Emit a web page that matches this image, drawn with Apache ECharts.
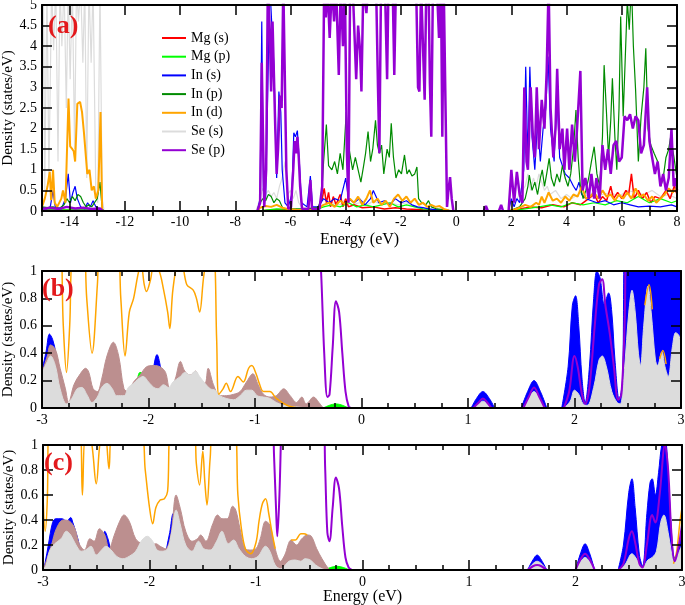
<!DOCTYPE html>
<html><head><meta charset="utf-8">
<script src="https://cdn.jsdelivr.net/npm/echarts@6/dist/echarts.min.js"></script>
<style>html,body{margin:0;padding:0;background:#fff}#c{width:685px;height:605px}</style>
</head><body><div id="c"></div>
<script>
// ---------- tick values ----------
const xTicksA_major = [-14,-12,-10,-8,-6,-4,-2,0,2,4,6,8];
const xTicksA_minor = [-15,-13,-11,-9,-7,-5,-3,-1,1,3,5,7];
const legendNames = ['Mg (s)','Mg (p)','In (s)','In (p)','In (d)','Se (s)','Se (p)'];
const B = null; // break in a curve

// ---------- panel (a) ----------
const seS_a = [[-15,0.7],[-14.95,5.5],[-14.9,0.5],[-14.82,5.5],[-14.75,0.8],[-14.65,5.5],[-14.58,3.9],[-14.5,5.5],[-14.42,1.2],[-14.35,5.5],[-14.28,4.0],[-14.2,5.5],[-14.12,2.5],[-14.05,5.5],[-13.98,3.2],[-13.9,5.5],[-13.82,1.5],[-13.75,5.5],[-13.68,4.6],[-13.6,5.5],[-13.52,3.6],[-13.45,5.5],[-13.38,0.8],[-13.3,5.5],[-13.22,3.6],[-13.15,5.5],[-13.05,0.4],[-12.98,0.2],[-12.9,5.5],[-12.82,0.3],[-12.75,0],B,
[-7.25,0],[-7.1,0.3],[-7.0,0.55],[-6.9,0.4],[-6.8,0.5],[-6.7,0.35],[-6.6,0.45],[-6.5,0.3],[-6.4,0.6],[-6.3,0.8],[-6.2,1.2],[-6.1,0.4],[-6.0,0.5],[-5.9,0.3],[-5.8,0.5],[-5.7,0.2],[-5.6,0.1],[-5.3,0.05],[-5.0,0.1],[-4.8,0.15],[-4.5,0.2],[-4.2,0.15],[-4.0,0.3],[-3.8,0.15],[-3.5,0.2],[-3.2,0.15],[-3.0,0.25],[-2.7,0.15],[-2.4,0.2],[-2.1,0.15],[-1.8,0.2],[-1.5,0.1],[-1.2,0.05],[-0.8,0.03],[-0.3,0.02],[-0.2,0],B,
[1.9,0],[2.1,0.2],[2.3,0.4],[2.5,0.6],[2.6,0.9],[2.7,0.5],[2.8,0.8],[2.9,0.6],[3.0,0.9],[3.1,0.7],[3.2,0.5],[3.3,0.6],[3.4,0.4],[3.6,0.5],[3.8,0.3],[4.0,0.4],[4.2,0.3],[4.5,0.45],[4.8,0.35],[5.0,0.5],[5.3,0.4],[5.6,0.45],[5.9,0.35],[6.2,0.5],[6.5,0.45],[6.8,0.4],[7.1,0.5],[7.4,0.35],[7.7,0.4],[8,0.3]];

const mgS_a = [[-15,0.02],[-12.8,0.02],[-12.75,0],B,[-7.2,0],[-6.5,0.03],[-5.5,0.02],[-5.0,0.05],[-4.85,0.3],[-4.78,0.55],[-4.7,0.2],[-4.62,0.45],[-4.55,0.1],[-4.45,0.35],[-4.35,0.15],[-4.2,0.4],[-4.1,0.1],[-4.0,0.3],[-3.9,0.1],[-3.7,0.15],[-3.4,0.08],[-3.0,0.1],[-2.6,0.05],[-2.2,0.08],[-1.8,0.05],[-1.2,0.03],[-0.5,0.02],[-0.2,0],B,
[1.9,0],[2.3,0.05],[2.7,0.1],[3.1,0.08],[3.5,0.15],[3.9,0.1],[4.2,0.2],[4.5,0.15],[4.8,0.3],[5.0,0.4],[5.15,0.2],[5.3,0.35],[5.45,0.25],[5.6,0.6],[5.7,0.3],[5.85,0.45],[6.0,0.3],[6.15,0.5],[6.25,0.4],[6.35,0.9],[6.45,0.3],[6.6,0.5],[6.75,0.3],[6.9,0.45],[7.05,0.2],[7.2,0.35],[7.4,0.3],[7.6,0.5],[7.75,0.3],[7.9,0.6],[8,0.4]];

const mgP_a = [[-15,0.03],[-12.8,0.03],[-12.75,0],B,[-7.2,0],[-6.5,0.05],[-5.5,0.03],[-5.0,0.05],[-4.8,0.1],[-4.5,0.15],[-4.2,0.1],[-3.9,0.2],[-3.6,0.1],[-3.3,0.15],[-3.0,0.1],[-2.7,0.15],[-2.4,0.2],[-2.1,0.1],[-1.8,0.15],[-1.5,0.1],[-1.2,0.05],[-0.6,0.02],[-0.2,0],B,
[1.9,0],[2.5,0.05],[3.0,0.1],[3.4,0.15],[3.8,0.1],[4.2,0.2],[4.6,0.15],[5.0,0.2],[5.4,0.15],[5.8,0.25],[6.2,0.2],[6.6,0.35],[7.0,0.2],[7.4,0.3],[7.8,0.2],[8,0.25]];

const inS_a = [[-15,0.1],[-14.85,0.05],[-14.7,0.1],[-14.6,0.5],[-14.52,0.1],[-14.3,0.05],[-14.15,0.3],[-14.05,0.9],[-13.97,0.2],[-13.88,0.45],[-13.8,0.6],[-13.72,0.3],[-13.6,0.1],[-13.45,0.05],[-13.35,0.2],[-13.25,0.1],[-13.15,0.25],[-13.05,0.1],[-12.9,0.05],[-12.8,0],B,
[-7.2,0],[-7.1,0.3],[-7.04,4.6],[-6.98,0.5],[-6.9,0.3],[-6.82,3.0],[-6.75,5.5],[-6.68,5.5],[-6.6,3.5],[-6.5,0.8],[-6.42,2.9],[-6.35,2.4],[-6.3,1.0],[-6.2,0.2],[-6.08,0.1],[-5.95,0.4],[-5.88,1.9],[-5.82,1.8],[-5.75,1.95],[-5.68,1.2],[-5.6,0.2],[-5.4,0.1],[-5.28,0.85],[-5.2,0.1],[-5.0,0.1],[-4.8,0.3],[-4.6,0.2],[-4.4,0.3],[-4.2,0.25],[-4.0,0.8],[-3.9,0.3],[-3.7,0.2],[-3.5,0.3],[-3.3,0.15],[-3.1,0.3],[-3.0,0.5],[-2.8,0.2],[-2.6,0.25],[-2.4,0.15],[-2.2,0.3],[-2.0,0.2],[-1.8,0.25],[-1.6,0.15],[-1.4,0.1],[-1.2,0.08],[-1.0,0.05],[-0.6,0.02],[-0.3,0.02],[-0.2,0],B,
[1.9,0],[2.0,0.3],[2.1,0.1],[2.2,0.3],[2.3,0.2],[2.45,1.0],[2.52,3.5],[2.6,1.2],[2.67,3.5],[2.75,1.8],[2.85,1.0],[2.95,2.2],[3.05,1.2],[3.15,2.0],[3.25,2.5],[3.33,3.75],[3.42,2.0],[3.55,1.2],[3.65,2.9],[3.75,1.3],[3.85,1.1],[3.95,0.9],[4.1,0.8],[4.25,0.6],[4.35,0.5],[4.45,0.7],[4.55,0.4],[4.7,0.3],[4.9,0.25],[5.1,0.2],[5.4,0.25],[5.7,0.15],[6.0,0.2],[6.3,0.15],[6.6,0.1],[7.0,0.12],[7.4,0.1],[7.8,0.15],[8,0.1]];

const inP_a = [[-15,0.1],[-14.8,0.08],[-14.6,0.1],[-14.4,0.05],[-14.2,0.15],[-14.1,0.3],[-14.0,0.2],[-13.9,0.35],[-13.8,0.25],[-13.7,0.4],[-13.6,0.35],[-13.5,0.2],[-13.4,0.1],[-13.3,0.15],[-13.2,0.1],[-13.1,0.2],[-13.0,0.3],[-12.9,0.7],[-12.82,0.05],[-12.78,0],B,
[-7.2,0],[-7.1,0.2],[-7.0,0.3],[-6.9,0.25],[-6.8,0.4],[-6.7,0.35],[-6.6,0.2],[-6.5,0.3],[-6.4,0.25],[-6.3,0.1],[-6.2,0.05],[-6.0,0.05],[-5.5,0.05],[-5.0,0.08],[-4.88,0.3],[-4.8,1.2],[-4.7,2.1],[-4.62,1.1],[-4.5,1.0],[-4.4,1.2],[-4.3,0.9],[-4.2,1.4],[-4.1,1.0],[-3.98,2.4],[-3.92,1.7],[-3.85,1.4],[-3.75,1.0],[-3.65,1.3],[-3.55,1.0],[-3.45,0.7],[-3.35,1.1],[-3.28,1.4],[-3.19,1.93],[-3.1,1.2],[-3.02,1.5],[-2.92,2.2],[-2.85,1.6],[-2.78,1.4],[-2.7,1.6],[-2.62,0.9],[-2.5,1.5],[-2.42,1.3],[-2.35,2.13],[-2.27,1.3],[-2.18,0.8],[-2.08,1.0],[-1.98,0.9],[-1.87,1.36],[-1.78,0.9],[-1.7,1.0],[-1.6,0.85],[-1.5,0.9],[-1.42,1.07],[-1.36,0.3],[-1.25,0.2],[-1.1,0.15],[-1.0,0.25],[-0.9,0.1],[-0.7,0.05],[-0.4,0.03],[-0.2,0],B,
[1.9,0],[2.1,0.05],[2.3,0.1],[2.5,0.3],[2.6,0.6],[2.65,0.87],[2.75,0.5],[2.85,0.7],[2.95,0.4],[3.05,0.8],[3.12,1.0],[3.2,0.6],[3.28,0.9],[3.37,1.28],[3.45,0.8],[3.55,0.6],[3.65,0.9],[3.75,0.7],[3.85,1.1],[3.95,0.8],[4.05,0.6],[4.15,0.9],[4.25,1.5],[4.34,2.45],[4.42,1.3],[4.5,0.6],[4.6,0.3],[4.7,0.5],[4.8,0.8],[4.9,1.2],[5.0,1.56],[5.1,0.9],[5.2,0.6],[5.3,1.8],[5.36,3.54],[5.45,2.33],[5.52,1.3],[5.6,2.2],[5.66,3.22],[5.75,1.8],[5.82,1.0],[5.9,2.5],[5.96,4.72],[6.05,2.3],[6.12,3.6],[6.2,5.1],[6.27,4.4],[6.35,5.5],[6.42,4.0],[6.5,2.94],[6.6,1.2],[6.7,2.3],[6.8,3.0],[6.87,3.95],[6.95,2.0],[7.05,1.6],[7.17,1.4],[7.3,1.2],[7.41,0.6],[7.5,0.8],[7.6,1.3],[7.7,1.5],[7.77,1.8],[7.89,1.3],[8,0.8]];

const inD_a = [[-15,0.1],[-14.9,0.3],[-14.8,0.6],[-14.72,0.95],[-14.67,0.26],[-14.6,1.0],[-14.54,0.2],[-14.45,0.1],[-14.3,0.3],[-14.24,0.5],[-14.15,0.2],[-14.04,2.73],[-13.98,1.57],[-13.9,1.5],[-13.85,1.45],[-13.8,1.2],[-13.72,2.6],[-13.62,2.65],[-13.55,2.4],[-13.48,1.9],[-13.36,0.9],[-13.28,1.0],[-13.2,0.5],[-13.12,0.6],[-13.05,0.3],[-12.96,0.5],[-12.88,2.4],[-12.82,0],B,
[-7.2,0],[-7.1,0.08],[-6.9,0.12],[-6.7,0.1],[-6.5,0.15],[-6.3,0.08],[-6.1,0.05],[-5.8,0.03],[-5.3,0.02],[-5.0,0.05],[-4.8,0.15],[-4.6,0.2],[-4.4,0.1],[-4.2,0.25],[-4.0,0.15],[-3.85,0.3],[-3.7,0.2],[-3.55,0.35],[-3.4,0.15],[-3.25,0.3],[-3.12,0.5],[-3.0,0.2],[-2.85,0.3],[-2.7,0.15],[-2.55,0.25],[-2.4,0.1],[-2.25,0.3],[-2.1,0.4],[-1.95,0.25],[-1.8,0.35],[-1.65,0.2],[-1.5,0.3],[-1.35,0.15],[-1.2,0.2],[-1.05,0.1],[-0.9,0.15],[-0.75,0.1],[-0.6,0.12],[-0.45,0.05],[-0.3,0.02],[-0.2,0],B,
[1.9,0],[2.1,0.03],[2.3,0.08],[2.5,0.15],[2.7,0.1],[2.9,0.2],[3.0,0.15],[3.1,0.35],[3.2,0.2],[3.35,0.45],[3.5,0.25],[3.65,0.3],[3.8,0.2],[3.95,0.35],[4.1,0.25],[4.25,0.4],[4.4,0.35],[4.55,0.6],[4.7,0.3],[4.85,0.35],[5.0,0.45],[5.15,0.3],[5.3,0.5],[5.45,0.35],[5.6,0.4],[5.75,0.25],[5.9,0.4],[6.05,0.3],[6.2,0.45],[6.35,0.3],[6.5,0.55],[6.65,0.35],[6.8,0.4],[6.95,0.25],[7.1,0.35],[7.25,0.2],[7.4,0.3],[7.55,0.4],[7.7,0.55],[7.85,0.45],[8,0.6]];

const seP_a = [[-15,0.05],[-14.7,0.08],[-14.4,0.05],[-14.1,0.1],[-13.8,0.06],[-13.5,0.08],[-13.2,0.05],[-12.9,0.06],[-12.8,0],B,
[-7.2,0],[-7.1,0.2],[-7.04,3.6],[-7.0,2.0],[-6.95,0.1],[-6.88,1.0],[-6.82,5.5],[-6.75,4.4],[-6.7,2.9],[-6.65,4.6],[-6.6,3.3],[-6.55,2.0],[-6.5,0.9],[-6.45,1.5],[-6.38,2.8],[-6.32,2.5],[-6.26,5.5],[-6.2,5.5],[-6.15,1.0],[-6.08,0.05],[-5.98,0.1],[-5.9,1.0],[-5.85,1.7],[-5.8,1.4],[-5.75,1.8],[-5.7,1.3],[-5.65,0.6],[-5.58,0.05],[-5.35,0.05],[-5.28,0.75],[-5.22,0.05],[-4.95,0.05],[-4.85,0.6],[-4.78,5.5],[-4.72,4.7],[-4.66,5.5],[-4.58,4.2],[-4.5,5.5],[-4.42,4.6],[-4.35,5.5],[-4.25,3.3],[-4.18,5.5],[-4.1,4.0],[-4.03,5.5],[-3.96,1.5],[-3.9,0.2],[-3.84,5.5],[-3.75,5.5],[-3.62,3.2],[-3.55,4.5],[-3.48,3.9],[-3.43,2.9],[-3.36,5.5],[-3.25,4.8],[-3.18,5.5],[-2.9,5.5],[-2.83,3.0],[-2.78,1.4],[-2.72,5.5],[-2.58,5.5],[-2.5,3.2],[-2.45,5.5],[-2.3,5.5],[-2.24,3.3],[-2.18,5.5],[-1.45,5.5],[-1.38,3.0],[-1.33,2.9],[-1.27,5.5],[-1.2,5.5],[-1.14,2.7],[-1.08,5.5],[-1.0,5.5],[-0.95,3.1],[-0.9,1.8],[-0.84,5.5],[-0.7,5.5],[-0.62,4.2],[-0.55,5.5],[-0.5,1.8],[-0.45,5.5],[-0.38,5.5],[-0.33,0.1],[-0.28,0.5],[-0.22,0.82],[-0.16,0.3],[-0.1,0],B,
[1.0,0],[1.08,0.12],[1.15,0],B,[1.55,0],[1.63,0.15],[1.7,0],B,
[1.9,0],[2.0,1.0],[2.1,0.2],[2.2,0.95],[2.3,0.4],[2.4,0.2],[2.47,3.0],[2.55,1.2],[2.6,1.0],[2.7,3.0],[2.78,1.8],[2.85,1.3],[2.92,3.0],[3.0,1.5],[3.1,2.7],[3.2,2.0],[3.28,3.4],[3.35,5.5],[3.42,2.5],[3.52,1.3],[3.6,2.0],[3.66,3.45],[3.75,1.5],[3.85,2.0],[3.92,1.0],[4.02,2.0],[4.1,1.0],[4.2,2.1],[4.3,1.2],[4.38,2.0],[4.5,3.4],[4.58,0.5],[4.68,0.8],[4.8,0.3],[4.9,0.9],[5.0,0.3],[5.08,0.8],[5.2,0.3],[5.3,1.6],[5.4,1.0],[5.5,1.5],[5.6,0.9],[5.7,1.6],[5.8,1.7],[5.9,1.2],[6.0,1.3],[6.1,2.3],[6.2,2.2],[6.3,2.35],[6.4,2.0],[6.5,2.3],[6.6,2.2],[6.7,1.4],[6.8,1.6],[6.92,3.0],[7.0,1.7],[7.1,1.3],[7.2,0.9],[7.3,1.2],[7.4,0.6],[7.5,0.9],[7.6,0.5],[7.7,0.8],[7.8,2.0],[7.88,0.6],[7.95,0.8],[8,0.5]];

// ---------- panel (b) ----------
const blue_b = [[-3,0.27],[-2.96,0.42],[-2.93,0.54],[-2.9,0.5],[-2.87,0.4],[-2.84,0.22],[-2.81,0.05],[-2.79,0],B,[-1.97,0.05],[-1.95,0.3],[-1.92,0.39],[-1.89,0.31],[-1.86,0.15],[-1.85,0],B,[1.03,0],[1.08,0.07],[1.14,0.12],[1.2,0.07],[1.25,0],B,[1.5,0],[1.56,0.12],[1.62,0.2],[1.68,0.12],[1.74,0],B,
[1.88,0],[1.94,0.3],[1.98,0.75],[2.01,0.82],[2.04,0.6],[2.07,0.22],[2.1,0.04],[2.14,0.3],[2.18,0.8],[2.21,1.0],[2.24,0.95],[2.28,0.76],[2.32,0.84],[2.35,0.7],[2.38,0.35],[2.42,0.06],[2.45,0.2],[2.48,1.2],[3,1.2]];
const green_b = [[-2.12,0],[-2.1,0.22],[-2.08,0.26],[-2.05,0.25],[-2.03,0.2],[-2.02,0],B,[-0.36,0],[-0.3,0.02],[-0.24,0.03],[-0.18,0.02],[-0.12,0]];
const brown_b = [[-3,0.26],[-2.95,0.38],[-2.92,0.46],[-2.875,0.43],[-2.83,0.29],[-2.78,0.14],[-2.75,0.04],[-2.7,0.17],[-2.64,0.25],[-2.59,0.29],[-2.56,0.26],[-2.52,0.14],[-2.48,0.12],[-2.44,0.21],[-2.39,0.38],[-2.33,0.48],[-2.28,0.38],[-2.23,0.14],[-2.19,0.12],[-2.14,0.19],[-2.08,0.24],[-2.02,0.30],[-1.95,0.31],[-1.89,0.30],[-1.84,0.26],[-1.8,0.14],[-1.75,0.21],[-1.70,0.34],[-1.66,0.27],[-1.61,0.24],[-1.56,0.27],[-1.52,0.20],[-1.47,0.18],[-1.44,0.29],[-1.39,0.17],[-1.33,0.09],[-1.27,0.09],[-1.2,0.10],[-1.14,0.12],[-1.08,0.19],[-1.02,0.25],[-0.97,0.17],[-0.92,0.10],[-0.86,0.08],[-0.8,0.09],[-0.73,0.14],[-0.67,0.09],[-0.61,0.04],[-0.56,0.08],[-0.52,0.03],[-0.45,0.08],[-0.4,0.04],[-0.36,0]];
const grey_b = [[-3,0.26],[-2.95,0.34],[-2.92,0.38],[-2.875,0.31],[-2.83,0.14],[-2.77,0.03],[-2.72,0.07],[-2.67,0.14],[-2.625,0.15],[-2.58,0.10],[-2.53,0.04],[-2.48,0.08],[-2.44,0.15],[-2.39,0.18],[-2.34,0.14],[-2.3,0.09],[-2.23,0.09],[-2.19,0.15],[-2.14,0.18],[-2.1,0.21],[-2.05,0.23],[-2.0,0.19],[-1.95,0.15],[-1.91,0.14],[-1.86,0.17],[-1.81,0.15],[-1.77,0.19],[-1.7,0.23],[-1.66,0.26],[-1.61,0.24],[-1.56,0.27],[-1.52,0.23],[-1.47,0.18],[-1.42,0.14],[-1.375,0.13],[-1.33,0.09],[-1.27,0.07],[-1.2,0.06],[-1.14,0.09],[-1.08,0.13],[-1.03,0.13],[-0.98,0.09],[-0.92,0.08],[-0.86,0.07],[-0.8,0.04],[-0.73,0.02],[-0.64,0.01],[-0.5,0],B,
[1.05,0],[1.1,0.03],[1.14,0.05],[1.18,0.03],[1.22,0],B,[1.52,0],[1.57,0.07],[1.62,0.12],[1.67,0.07],[1.72,0],B,
[1.9,0],[1.96,0.05],[2.0,0.13],[2.04,0.1],[2.08,0.03],[2.12,0.02],[2.18,0.15],[2.23,0.35],[2.26,0.38],[2.3,0.3],[2.35,0.12],[2.4,0.04],[2.43,0.03],[2.47,0.3],[2.51,0.7],[2.54,0.86],[2.57,0.7],[2.6,0.4],[2.62,0.31],[2.65,0.6],[2.69,0.89],[2.72,0.7],[2.76,0.35],[2.78,0.31],[2.82,0.41],[2.85,0.3],[2.88,0.23],[2.92,0.45],[2.95,0.55],[2.98,0.53],[3,0.45]];
const orange_b = [[-3,1.5],[-2.85,1.5],[-2.8,0.6],[-2.77,0.26],[-2.74,0.6],[-2.71,1.2],[-2.62,1.3],[-2.58,0.8],[-2.53,0.4],[-2.48,0.9],[-2.45,1.3],[-2.3,1.3],[-2.26,0.8],[-2.22,0.38],[-2.18,0.7],[-2.14,0.8],[-2.1,0.97],[-2.07,1.05],[-2.04,0.9],[-2.02,0.85],[-1.98,0.94],[-1.95,1.05],[-1.9,1.0],[-1.86,0.87],[-1.82,0.7],[-1.8,0.58],[-1.77,0.87],[-1.72,1.05],[-1.69,1.05],[-1.64,0.9],[-1.58,0.86],[-1.55,0.8],[-1.52,0.70],[-1.48,0.97],[-1.44,1.1],[-1.39,1.1],[-1.36,0.5],[-1.34,0.1],[-1.3,0.14],[-1.27,0.18],[-1.23,0.12],[-1.16,0.23],[-1.11,0.19],[-1.06,0.29],[-1.03,0.31],[-0.99,0.25],[-0.96,0.18],[-0.92,0.12],[-0.86,0.12],[-0.8,0.07],[-0.7,0.02],[-0.6,0],B,
[2.66,0.75],[2.7,0.9],[2.73,0.72],B,[2.8,0.36],[2.83,0.42],[2.86,0.32]];
const violet_b = [[-3,1.5],[-0.42,1.5],[-0.38,1.0],[-0.35,0.4],[-0.32,0.08],[-0.3,0.1],[-0.27,0.45],[-0.24,0.78],[-0.21,0.7],[-0.18,0.4],[-0.15,0.12],[-0.12,0.01],[-0.1,0],B,[1.05,0],[1.1,0.04],[1.14,0.07],[1.18,0.04],[1.22,0],B,[1.52,0],[1.57,0.08],[1.62,0.15],[1.67,0.08],[1.72,0],B,
[1.9,0],[1.95,0.12],[2.0,0.38],[2.03,0.3],[2.07,0.1],[2.1,0.03],[2.14,0.15],[2.19,0.6],[2.23,0.9],[2.26,0.94],[2.29,0.75],[2.33,0.55],[2.37,0.3],[2.41,0.06],[2.44,0.1],[2.47,0.6],[2.5,1.5],[3,1.5]];

// ---------- panel (c) ----------
const blue_c = [[-3,0],[-2.98,0.06],[-2.95,0.2],[-2.91,0.38],[-2.88,0.41],[-2.82,0.41],[-2.78,0.39],[-2.74,0.42],[-2.72,0.38],[-2.69,0.3],[-2.66,0.2],[-2.64,0],B,[-2.44,0.2],[-2.42,0.31],[-2.39,0.25],[-2.37,0.17],[-2.36,0],B,[-1.86,0],[-1.84,0.17],[-1.81,0.3],[-1.78,0.45],[-1.76,0.3],[-1.74,0],B,
[1.55,0],[1.6,0.08],[1.64,0.12],[1.68,0.08],[1.73,0],B,[2.0,0],[2.05,0.14],[2.09,0.21],[2.13,0.14],[2.18,0],B,
[2.4,0],[2.45,0.2],[2.5,0.62],[2.53,0.73],[2.56,0.5],[2.6,0.12],[2.63,0.03],[2.67,0.45],[2.7,0.7],[2.72,0.73],[2.75,0.6],[2.78,0.78],[2.81,1.0],[2.84,1.05],[2.88,0.6],[2.91,0.2],[2.93,0.1],[2.96,0.15],[3.0,0.3]];
const green_c = [[-0.36,0],[-0.3,0.02],[-0.24,0.03],[-0.18,0.02],[-0.12,0]];
const brown_c = [[-3,0],[-2.97,0.07],[-2.92,0.2],[-2.875,0.33],[-2.81,0.40],[-2.75,0.39],[-2.7,0.33],[-2.66,0.21],[-2.61,0.16],[-2.56,0.25],[-2.52,0.23],[-2.47,0.33],[-2.42,0.28],[-2.38,0.17],[-2.33,0.28],[-2.28,0.39],[-2.24,0.44],[-2.19,0.39],[-2.13,0.25],[-2.07,0.21],[-2.0,0.20],[-1.94,0.21],[-1.9,0.19],[-1.85,0.17],[-1.8,0.28],[-1.75,0.6],[-1.71,0.49],[-1.66,0.31],[-1.6,0.23],[-1.55,0.25],[-1.52,0.28],[-1.47,0.23],[-1.41,0.36],[-1.36,0.44],[-1.32,0.41],[-1.27,0.41],[-1.22,0.51],[-1.19,0.48],[-1.15,0.33],[-1.1,0.17],[-1.05,0.16],[-1.0,0.17],[-0.96,0.25],[-0.91,0.39],[-0.87,0.36],[-0.82,0.17],[-0.77,0.07],[-0.73,0.12],[-0.67,0.24],[-0.62,0.2],[-0.57,0.25],[-0.52,0.28],[-0.48,0.27],[-0.43,0.17],[-0.38,0.09],[-0.32,0.01],[-0.3,0]];
const grey_c = [[-3,0],[-2.97,0.04],[-2.94,0.15],[-2.89,0.21],[-2.83,0.25],[-2.78,0.31],[-2.74,0.28],[-2.69,0.2],[-2.64,0.15],[-2.6,0.16],[-2.55,0.19],[-2.5,0.12],[-2.45,0.16],[-2.41,0.19],[-2.36,0.16],[-2.31,0.11],[-2.25,0.09],[-2.19,0.11],[-2.13,0.15],[-2.07,0.24],[-2.02,0.27],[-1.97,0.23],[-1.93,0.16],[-1.88,0.15],[-1.83,0.17],[-1.79,0.31],[-1.75,0.48],[-1.71,0.36],[-1.66,0.2],[-1.6,0.15],[-1.54,0.23],[-1.49,0.17],[-1.43,0.16],[-1.37,0.23],[-1.32,0.31],[-1.26,0.21],[-1.21,0.24],[-1.16,0.17],[-1.1,0.11],[-1.04,0.09],[-0.98,0.11],[-0.91,0.19],[-0.87,0.15],[-0.82,0.04],[-0.77,0.01],[-0.69,0.07],[-0.63,0.08],[-0.58,0.07],[-0.54,0.09],[-0.49,0.08],[-0.44,0.04],[-0.38,0.01],[-0.34,0],B,
[1.55,0],[1.6,0.05],[1.64,0.07],[1.68,0.05],[1.73,0],B,[2.0,0],[2.05,0.07],[2.09,0.1],[2.13,0.07],[2.18,0],B,
[2.42,0],[2.47,0.05],[2.53,0.13],[2.58,0.08],[2.63,0.02],[2.68,0.08],[2.72,0.1],[2.76,0.15],[2.8,0.38],[2.83,0.44],[2.87,0.3],[2.91,0.1],[2.93,0.07],[2.96,0.12],[3,0.2]];
const orange_c = [[-3,0.6],[-2.98,0.31],[-2.96,0.55],[-2.94,1.2],[-2.66,1.2],[-2.63,0.6],[-2.6,1.1],[-2.55,1.05],[-2.5,0.69],[-2.46,1.05],[-2.42,1.1],[-2.38,0.81],[-2.35,1.1],[-2.08,1.1],[-2.04,0.8],[-2.0,0.5],[-1.97,0.37],[-1.94,0.5],[-1.9,0.56],[-1.86,0.57],[-1.83,0.63],[-1.8,1.1],[-1.58,1.1],[-1.56,0.85],[-1.53,0.68],[-1.5,0.95],[-1.48,0.7],[-1.46,0.52],[-1.43,0.9],[-1.4,1.1],[-1.2,1.1],[-1.17,0.6],[-1.14,0.35],[-1.1,0.17],[-1.05,0.13],[-1.0,0.22],[-0.97,0.4],[-0.94,0.53],[-0.91,0.57],[-0.88,0.45],[-0.85,0.3],[-0.82,0.17],B,
[-0.67,0.24],[-0.63,0.24],[-0.58,0.29],[-0.55,0.29],[-0.52,0.28],B,[2.92,0.05],[2.95,0.15],[2.98,0.38],[3.0,0.5]];
const violet_c = [[-3,1.5],[-0.86,1.5],[-0.83,0.9],[-0.81,0.45],[-0.8,0.27],[-0.78,0.6],[-0.76,1.2],[-0.74,1.5],[-0.38,1.5],[-0.35,0.8],[-0.33,0.3],[-0.31,0.23],[-0.28,0.5],[-0.25,0.74],[-0.22,0.65],[-0.19,0.35],[-0.16,0.1],[-0.13,0.02],[-0.1,0],B,
[1.55,0],[1.6,0.03],[1.64,0.04],[1.68,0.03],[1.73,0],B,[2.0,0],[2.05,0.09],[2.09,0.13],[2.13,0.09],[2.18,0],B,
[2.4,0],[2.45,0.05],[2.5,0.25],[2.53,0.31],[2.56,0.22],[2.6,0.05],[2.63,0.02],[2.67,0.2],[2.72,0.44],[2.75,0.38],[2.79,0.6],[2.84,1.0],[2.87,0.8],[2.9,0.3],[2.93,0.07],[2.96,0.15],[3.0,0.36]];

// ---------- build ----------
const COL = {red:'#ff0000', green:'#00ff00', blue:'#0000ff', green4:'#008b00', orange:'#ffa500', grey:'#dcdcdc', violet:'#9400d3', brown:'#bc8f8f'};
const FONT = 'Liberation Serif';
const pts = a => a.map(p => p === null ? ['-','-'] : p);

function xAx(gi, pos, min, max, opt) {
  return Object.assign({
    type:'value', gridIndex:gi, position:pos, min:min, max:max, z:10,
    splitLine:{show:false},
    axisLine:{show:true, onZero:false, lineStyle:{color:'#000', width:2}},
    axisTick:{show:true, inside:true, length:10, lineStyle:{color:'#000', width:1.5}},
    axisLabel:{show:false}
  }, opt);
}
function yAx(gi, pos, max, interval, opt) {
  return Object.assign({
    type:'value', gridIndex:gi, position:pos, min:0, max:max, interval:interval, z:10,
    splitLine:{show:false},
    axisLine:{show:true, onZero:false, lineStyle:{color:'#000', width:2}},
    axisTick:{show:true, inside:true, length:10, lineStyle:{color:'#000', width:1.5}},
    axisLabel:{show:false}
  }, opt);
}
const lbl = {show:true, color:'#000', fontFamily:FONT, fontSize:14, margin:5};
const nameStyle = {color:'#000', fontFamily:FONT, fontSize:16};
const yName = {name:'Density (states/eV)', nameLocation:'middle', nameGap:26, nameMoveOverlap:false, nameTextStyle:{color:'#000', fontFamily:FONT, fontSize:15}};

const xAxes = [
  xAx(0,'bottom',-15,8,{axisTick:{show:true,inside:true,length:10,customValues:xTicksA_major,lineStyle:{color:'#000',width:1.5}}, axisLabel:Object.assign({},lbl,{customValues:xTicksA_major,margin:4}), name:'Energy (eV)', nameLocation:'middle', nameGap:21, nameMoveOverlap:false, nameTextStyle:nameStyle}),
  xAx(0,'bottom',-15,8,{axisLine:{show:false}, axisTick:{show:true,inside:true,length:5,customValues:xTicksA_minor,lineStyle:{color:'#000',width:1.5}}}),
  xAx(0,'top',-15,8,{axisTick:{show:true,inside:true,length:10,customValues:xTicksA_major,lineStyle:{color:'#000',width:1.5}}}),
  xAx(0,'top',-15,8,{axisLine:{show:false}, axisTick:{show:true,inside:true,length:5,customValues:xTicksA_minor,lineStyle:{color:'#000',width:1.5}}}),
  xAx(1,'bottom',-3,3,{interval:1, axisLabel:Object.assign({},lbl), minorTick:{show:true,splitNumber:4,length:5,lineStyle:{color:'#000',width:1.5}}}),
  xAx(1,'top',-3,3,{interval:1, minorTick:{show:true,splitNumber:4,length:5,lineStyle:{color:'#000',width:1.5}}}),
  xAx(2,'bottom',-3,3,{interval:1, axisLabel:Object.assign({},lbl), minorTick:{show:true,splitNumber:4,length:5,lineStyle:{color:'#000',width:1.5}}, name:'Energy (eV)', nameLocation:'middle', nameGap:19, nameMoveOverlap:false, nameTextStyle:nameStyle}),
  xAx(2,'top',-3,3,{interval:1, minorTick:{show:true,splitNumber:4,length:5,lineStyle:{color:'#000',width:1.5}}})
];
const yAxes = [
  yAx(0,'left',5,0.5,Object.assign({axisLabel:lbl},yName)),
  yAx(0,'right',5,0.5,{}),
  yAx(1,'left',1,0.2,Object.assign({axisLabel:lbl},yName)),
  yAx(1,'right',1,0.2,{}),
  yAx(2,'left',1,0.2,Object.assign({axisLabel:lbl},yName)),
  yAx(2,'right',1,0.2,{})
];

function line(name, data, color, width, xi, yi, z, smooth) {
  return {type:'line', name:name, data:pts(data), xAxisIndex:xi, yAxisIndex:yi, symbol:'none', showSymbol:false,
    connectNulls:false, clip:true, animation:false, z:z, smooth:smooth || false,
    lineStyle:{color:color, width:width}, itemStyle:{color:color}};
}
function area(data, color, xi, yi, z) {
  const s = line(undefined, data, color, 1, xi, yi, z, 0.35);
  s.areaStyle = {color:color, opacity:1};
  return s;
}

const series = [
  line('Se (s)', seS_a, COL.grey, 1.2, 0, 0, 2),
  line('Mg (s)', mgS_a, COL.red, 1.5, 0, 0, 2),
  line('Mg (p)', mgP_a, COL.green, 1.2, 0, 0, 2),
  line('In (s)', inS_a, COL.blue, 1.2, 0, 0, 2),
  line('In (p)', inP_a, COL.green4, 1.2, 0, 0, 2),
  line('In (d)', inD_a, COL.orange, 2, 0, 0, 2),
  line('Se (p)', seP_a, COL.violet, 2.5, 0, 0, 3),

  area(blue_b, COL.blue, 4, 2, 2),
  area(green_b, COL.green, 4, 2, 3),
  area(brown_b, COL.brown, 4, 2, 4),
  area(grey_b, COL.grey, 4, 2, 5),
  line('b-orange', orange_b, COL.orange, 1.5, 4, 2, 6, 0.35),
  line('b-violet', violet_b, COL.violet, 2, 4, 2, 7, 0.35),

  area(blue_c, COL.blue, 6, 4, 2),
  area(green_c, COL.green, 6, 4, 3),
  area(brown_c, COL.brown, 6, 4, 4),
  area(grey_c, COL.grey, 6, 4, 5),
  line('c-orange', orange_c, COL.orange, 1.5, 6, 4, 6, 0.35),
  line('c-violet', violet_c, COL.violet, 2, 6, 4, 7, 0.35)
];

const chart = echarts.init(document.getElementById('c'), null, {renderer:'canvas'});
chart.setOption({
  animation:false,
  backgroundColor:'#fff',
  grid:[
    {left:42, top:5, width:635, height:206, containLabel:false, outerBoundsMode:'none'},
    {left:42, top:271, width:639, height:137, containLabel:false, outerBoundsMode:'none'},
    {left:43, top:445, width:639, height:125, containLabel:false, outerBoundsMode:'none'}
  ],
  xAxis:xAxes,
  yAxis:yAxes,
  legend:{
    data:legendNames, orient:'vertical', left:157, top:26, icon:'rect', itemWidth:24, itemHeight:2, itemGap:4.7,
    textStyle:{color:'#000', fontFamily:FONT, fontSize:14, lineHeight:14}, backgroundColor:'transparent'
  },
  graphic:[
    {type:'text', left:48, top:13, z:20, style:{text:'(a)', fill:'#e3191c', font:'bold 26px "Liberation Serif"'}},
    {type:'text', left:42, top:276, z:20, style:{text:'(b)', fill:'#e3191c', font:'bold 26px "Liberation Serif"'}},
    {type:'text', left:44, top:450, z:20, style:{text:'(c)', fill:'#e3191c', font:'bold 26px "Liberation Serif"'}}
  ],
  series:series
});
</script>
</body></html>
